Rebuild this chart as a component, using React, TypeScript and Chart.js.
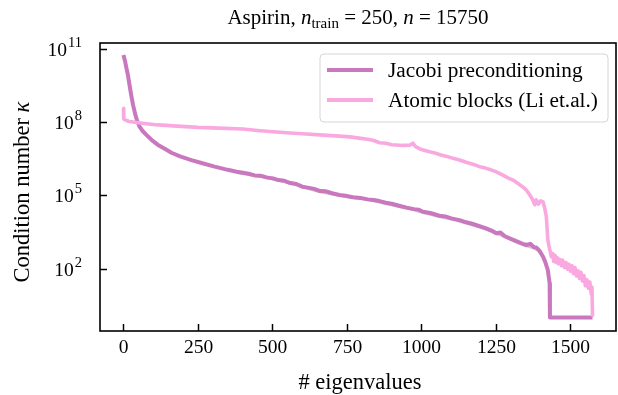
import { useEffect, useRef } from "react";
import { Chart, registerables } from "chart.js";

Chart.register(...registerables);

// Eigenvalue index and log10 of the condition number, Jacobi preconditioning
const JACOBI_X = [
  0, 5, 10, 15, 20, 26, 32, 40, 47, 54, 65, 77, 95, 116, 140, 161, 190, 228, 265, 306,
  350, 380, 401, 420, 440, 460, 480, 502, 520, 540, 560, 580, 600, 614, 640, 660, 680,
  700, 725, 745, 770, 795, 820, 840, 859, 880, 900, 925, 950, 975, 990, 1005, 1030, 1060,
  1080, 1100, 1128, 1150, 1170, 1190, 1215, 1235, 1251, 1265, 1280, 1300, 1320, 1340,
  1352, 1365, 1378, 1385, 1395, 1408, 1416, 1424, 1430, 1431, 1574,
];
const JACOBI_LOG10 = [
  10.75, 10.52, 10.22, 9.93, 9.55, 9.11, 8.72, 8.3, 8.02, 7.82, 7.63, 7.48, 7.27, 7.07,
  6.9, 6.75, 6.6, 6.45, 6.32, 6.18, 6.05, 5.97, 5.93, 5.89, 5.82, 5.81, 5.74, 5.7, 5.63,
  5.6, 5.51, 5.47, 5.36, 5.33, 5.27, 5.18, 5.17, 5.09, 5.02, 4.99, 4.93, 4.9, 4.84, 4.81,
  4.77, 4.7, 4.66, 4.58, 4.5, 4.44, 4.42, 4.33, 4.28, 4.17, 4.14, 4.06, 3.99, 3.9, 3.84,
  3.76, 3.66, 3.56, 3.45, 3.48, 3.33, 3.22, 3.12, 3.02, 2.97, 3.02, 2.88, 2.87, 2.75,
  2.49, 2.25, 1.94, 1.4, 0, 0,
];

// Faint grey trace running just under the Jacobi curve
const SHADOW_X = [
  380, 420, 460, 502, 540, 580, 614, 660, 700, 745, 795, 840, 880, 925, 975, 1005, 1060,
  1100, 1150, 1190, 1235, 1280, 1320, 1352, 1378, 1395,
];
const SHADOW_LOG10 = [
  5.94, 5.86, 5.78, 5.67, 5.57, 5.44, 5.3, 5.15, 5.06, 4.96, 4.87, 4.78, 4.67, 4.55,
  4.41, 4.3, 4.14, 4.03, 3.87, 3.73, 3.53, 3.3, 3.09, 2.94, 2.85, 2.72,
];

// Atomic blocks (Li et.al.)
const ATOMIC_X = [
  0, 1, 10, 20, 38, 70, 116, 180, 250, 320, 401, 450, 502, 560, 614, 670, 725, 760, 790,
  820, 840, 859, 880, 900, 916, 935, 960, 971, 980, 1000, 1027, 1045, 1065, 1085, 1106,
  1125, 1150, 1175, 1195, 1215, 1235, 1251, 1270, 1290, 1307, 1325, 1340, 1352, 1362,
  1372, 1380, 1385, 1392, 1400, 1408, 1414, 1419, 1424, 1430, 1436, 1440, 1444, 1448,
  1452, 1456, 1460, 1464, 1470, 1474, 1480, 1485, 1490, 1495, 1500, 1505, 1510, 1515,
  1520, 1525, 1530, 1535, 1540, 1545, 1550, 1555, 1560, 1565, 1570, 1572, 1574,
];
const ATOMIC_LOG10 = [
  8.57, 8.13, 8.07, 8.03, 8.0, 7.95, 7.89, 7.84, 7.79, 7.76, 7.72, 7.66, 7.61, 7.56, 7.52,
  7.47, 7.43, 7.4, 7.35, 7.3, 7.25, 7.16, 7.14, 7.08, 7.07, 7.05, 7.06, 7.14, 7.0, 6.88,
  6.79, 6.74, 6.66, 6.6, 6.52, 6.46, 6.36, 6.27, 6.18, 6.12, 6.04, 5.97, 5.85, 5.72, 5.63,
  5.48, 5.35, 5.22, 5.05, 4.85, 4.62, 4.82, 4.64, 4.78, 4.74, 4.45, 4.13, 3.17, 2.8, 2.49,
  2.62, 2.3, 2.55, 2.25, 2.45, 2.2, 2.38, 2.12, 2.35, 2.05, 2.25, 1.98, 2.18, 1.9, 2.12,
  1.8, 2.05, 1.7, 1.92, 1.6, 1.85, 1.5, 1.72, 1.3, 1.55, 1.2, 1.45, 0.95, 1.25, 0.03,
];

const X_TICKS = [0, 250, 500, 750, 1000, 1250, 1500];
const Y_TICK_EXPONENTS = [2, 5, 8, 11];

const LEGEND_LABELS = ["Jacobi preconditioning", "Atomic blocks (Li et.al.)"];
const JACOBI_COLOR = "#c978bf";
const ATOMIC_COLOR = "#f9a8e0";
const SHADOW_COLOR = "rgba(160,160,160,0.55)";

const SERIF = "'Liberation Serif', 'Times New Roman', serif";

const toPoints = (xs: number[], logs: number[]) =>
  xs.map((x, i) => ({ x, y: Math.pow(10, logs[i]) }));

const decorations = {
  id: "decorations",
  afterDraw(chart: any) {
    const ctx: CanvasRenderingContext2D = chart.ctx;
    const { left, right, top, bottom } = chart.chartArea;
    const xs = chart.scales.x;
    const ys = chart.scales.y;
    ctx.save();

    // frame
    ctx.strokeStyle = "#000";
    ctx.lineWidth = 1.6;
    ctx.strokeRect(left, top, right - left, bottom - top);

    // inward ticks + labels
    ctx.lineWidth = 1.5;
    ctx.fillStyle = "#000";
    ctx.font = `19.5px ${SERIF}`;
    ctx.textAlign = "center";
    ctx.textBaseline = "alphabetic";
    X_TICKS.forEach((v) => {
      const px = Math.round(xs.getPixelForValue(v)) + 0.5;
      ctx.beginPath();
      ctx.moveTo(px, bottom);
      ctx.lineTo(px, bottom - 7);
      ctx.stroke();
      ctx.fillText(String(v), px, 353);
    });

    Y_TICK_EXPONENTS.forEach((e) => {
      const py = Math.round(ys.getPixelForValue(Math.pow(10, e))) + 0.5;
      ctx.beginPath();
      ctx.moveTo(left, py);
      ctx.lineTo(left + 7, py);
      ctx.stroke();
      const sup = String(e);
      ctx.font = `14.5px ${SERIF}`;
      const supW = ctx.measureText(sup).width;
      ctx.textAlign = "left";
      const rightEdge = 82;
      ctx.fillText(sup, rightEdge - supW, py - 3);
      ctx.font = `19.5px ${SERIF}`;
      ctx.textAlign = "right";
      ctx.fillText("10", rightEdge - supW - 1, py + 6);
    });

    // title with math parts
    const parts: [string, string, number][] = [
      ["Aspirin, ", `21px ${SERIF}`, 0],
      ["n", `italic 21px ${SERIF}`, 0],
      ["train", `15px ${SERIF}`, 4],
      [" = 250, ", `21px ${SERIF}`, 0],
      ["n", `italic 21px ${SERIF}`, 0],
      [" = 15750", `21px ${SERIF}`, 0],
    ];
    let total = 0;
    parts.forEach(([t, f]) => {
      ctx.font = f;
      total += ctx.measureText(t).width;
    });
    let cx = (left + right) / 2 - total / 2;
    ctx.textAlign = "left";
    parts.forEach(([t, f, dy]) => {
      ctx.font = f;
      ctx.fillText(t, cx, 24 + dy);
      cx += ctx.measureText(t).width;
    });

    // x-axis title
    ctx.font = `22.5px ${SERIF}`;
    ctx.textAlign = "center";
    ctx.fillText("# eigenvalues", 360, 389);

    // y-axis title
    ctx.save();
    ctx.translate(29, 192);
    ctx.rotate(-Math.PI / 2);
    const yt1 = "Condition number ";
    const yt2 = "\u03BA";
    ctx.font = `22.5px ${SERIF}`;
    const w1 = ctx.measureText(yt1).width;
    ctx.font = `italic 22.5px ${SERIF}`;
    const w2 = ctx.measureText(yt2).width;
    ctx.textAlign = "left";
    ctx.font = `22.5px ${SERIF}`;
    ctx.fillText(yt1, -(w1 + w2) / 2, 0);
    ctx.font = `italic 22.5px ${SERIF}`;
    ctx.fillText(yt2, -(w1 + w2) / 2 + w1, 0);
    ctx.restore();

    // legend
    const bx = 320, by = 54, bw = 288, bh = 68, r = 4;
    ctx.beginPath();
    ctx.moveTo(bx + r, by);
    ctx.arcTo(bx + bw, by, bx + bw, by + bh, r);
    ctx.arcTo(bx + bw, by + bh, bx, by + bh, r);
    ctx.arcTo(bx, by + bh, bx, by, r);
    ctx.arcTo(bx, by, bx + bw, by, r);
    ctx.closePath();
    ctx.fillStyle = "rgba(255,255,255,0.8)";
    ctx.fill();
    ctx.strokeStyle = "#d6d6d6";
    ctx.lineWidth = 1;
    ctx.stroke();

    const colors = [JACOBI_COLOR, ATOMIC_COLOR];
    const rows = [70, 100];
    ctx.font = `21.3px ${SERIF}`;
    ctx.textAlign = "left";
    ctx.textBaseline = "middle";
    LEGEND_LABELS.forEach((lab, i) => {
      ctx.strokeStyle = colors[i];
      ctx.lineWidth = 4;
      ctx.beginPath();
      ctx.moveTo(327, rows[i]);
      ctx.lineTo(373, rows[i]);
      ctx.stroke();
      ctx.fillStyle = "#000";
      ctx.fillText(lab, 388, rows[i] + 1);
    });

    ctx.restore();
  },
};

export default function App() {
  const ref = useRef<HTMLCanvasElement | null>(null);

  useEffect(() => {
    document.body.style.margin = "0";
    const canvas = ref.current;
    if (!canvas) return;
    const chart = new Chart(canvas, {
      type: "line",
      data: {
        datasets: [
          {
            label: LEGEND_LABELS[1],
            data: toPoints(ATOMIC_X, ATOMIC_LOG10),
            borderColor: ATOMIC_COLOR,
            borderWidth: 3.6,
            order: 0,
          },
          {
            label: LEGEND_LABELS[0],
            data: toPoints(JACOBI_X, JACOBI_LOG10),
            borderColor: JACOBI_COLOR,
            borderWidth: 4,
            order: 1,
          },
          {
            label: "shadow",
            data: toPoints(SHADOW_X, SHADOW_LOG10),
            borderColor: SHADOW_COLOR,
            borderWidth: 3,
            order: 2,
          },
        ],
      },
      options: {
        animation: false,
        responsive: false,
        devicePixelRatio: 1,
        parsing: false,
        normalized: true,
        layout: { padding: { left: 100, right: 2, top: 43, bottom: 64 } },
        elements: {
          point: { radius: 0, hoverRadius: 0 },
          line: {
            tension: 0,
            fill: false,
            borderJoinStyle: "round",
            borderCapStyle: "butt",
          },
        },
        plugins: {
          legend: { display: false },
          title: { display: false },
          tooltip: { enabled: false },
        },
        events: [],
        scales: {
          x: {
            type: "linear",
            display: false,
            min: -78.7,
            max: 1652.7,
          },
          y: {
            type: "logarithmic",
            display: false,
            min: Math.pow(10, -0.553),
            max: Math.pow(10, 11.246),
          },
        },
      },
      plugins: [decorations],
    });
    return () => chart.destroy();
  }, []);

  return (
    <canvas
      ref={ref}
      width={618}
      height={395}
      style={{ display: "block", width: 618, height: 395 }}
    />
  );
}
